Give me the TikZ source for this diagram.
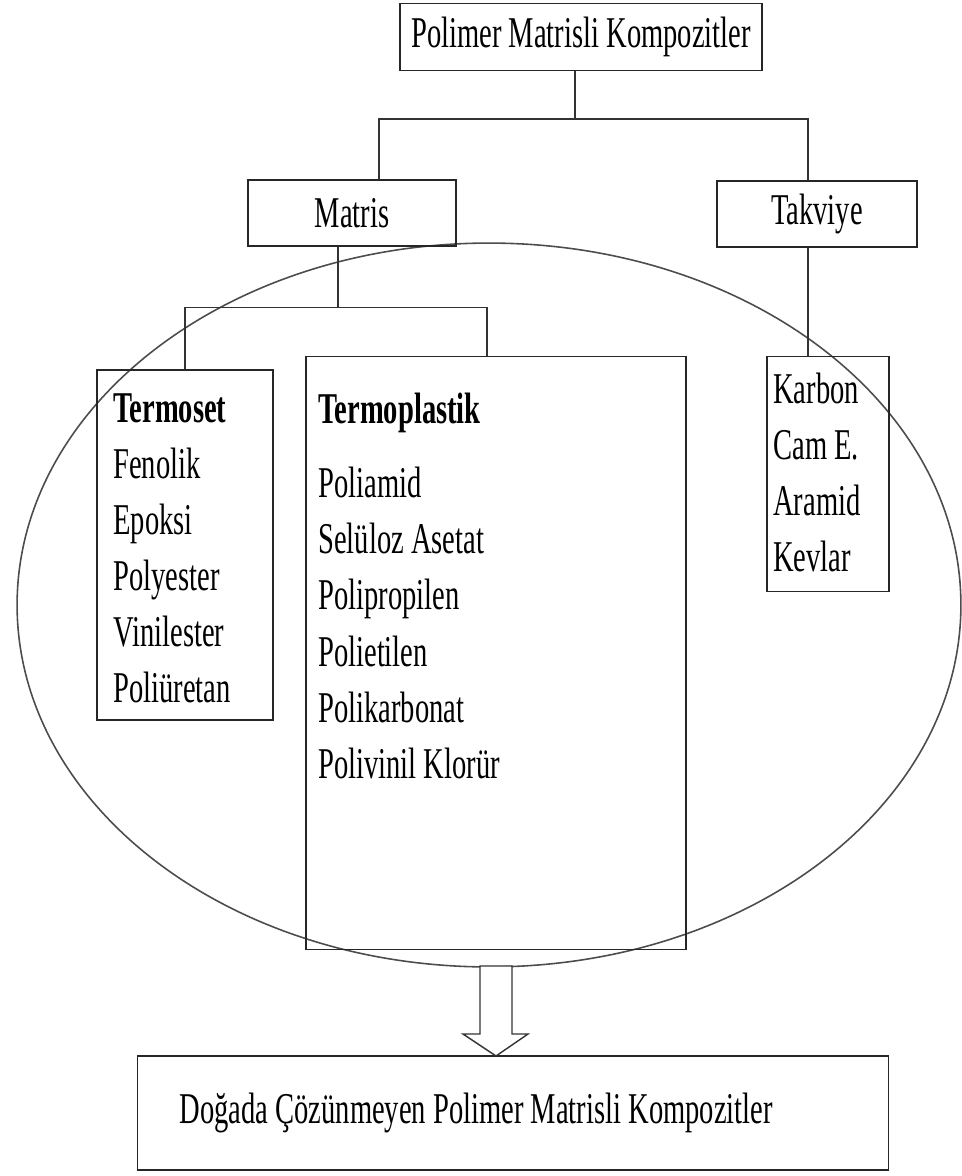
\documentclass[tikz,border=0pt]{standalone}
\usepackage{fontspec}
\setmainfont[FakeStretch=0.65]{Liberation Serif}
\usetikzlibrary{positioning}

\begin{document}
\begin{tikzpicture}[x=0.02cm, y=-0.02cm, font=\fontsize{25}{31.9}\selectfont,
  box/.style={rectangle, draw=black!85, line width=0.8pt, inner sep=0pt},
  list/.style={align=left, inner sep=0pt, anchor=north west},
  link/.style={draw=black!80, line width=0.8pt}
]
\useasboundingbox (0,0) rectangle (961,1176);

% oval round the matrix group
\draw[black!70, line width=0.9pt] (489,605) ellipse [x radius=9.44cm, y radius=7.24cm];

\node[box, minimum width=7.24cm, minimum height=1.34cm] (pmk) at (581,37) {Polimer Matrisli Kompozitler};
\node[box, minimum width=4.16cm, minimum height=1.32cm] (matris) at (352,213) {Matris};
\node[box, minimum width=4.0cm, minimum height=1.32cm] (takviye) at (817,214) {Takviye};

\node[box, minimum width=3.52cm, minimum height=7.0cm] (termoset) at (185,545) {};
\node[box, minimum width=7.6cm, minimum height=11.86cm] (termoplastik) at (496,653) {};
\node[box, minimum width=2.44cm, minimum height=4.7cm] (takviyebox) at (828,474) {};

\node[list] (termosetlist) at (113,393)
  {\textbf{Termoset}\\Fenolik\\Epoksi\\Polyester\\Vinilester\\Poliüretan};
\node[list] (termoplastiklist) at (318,393)
  {\textbf{Termoplastik}\\[0.36cm]Poliamid\\Selüloz Asetat\\Polipropilen\\Polietilen\\Polikarbonat\\Polivinil Klorür};
\node[list] (takviyelist) at (773,373)
  {Karbon\\Cam E.\\Aramid\\Kevlar};

\node[box, minimum width=15.02cm, minimum height=2.28cm] (sonuc) at (513,1113)
  {\makebox[13.34cm][l]{Doğada Çözünmeyen Polimer Matrisli Kompozitler}};

% tree lines
\draw[link] ([xshift=-0.12cm]pmk.south) -- ++(0,48) coordinate (split1);
\draw[link] ([xshift=0.54cm]matris.north) |- (split1) -| ([xshift=-0.18cm]takviye.north);
\draw[link] ([xshift=-0.28cm]matris.south) -- ++(0,61) coordinate (split2);
\draw[link] (termoset.north) |- (split2) -| ([xshift=-0.18cm]termoplastik.north);
\draw[link] ([xshift=-0.18cm]takviye.south) -- ([xshift=-0.18cm]takviye.south |- takviyebox.north);

% hollow arrow down
\draw[link, fill=white] (480,966) -- (480,1034) -- (463,1034) -- (496,1056)
  -- (528,1034) -- (512,1034) -- (512,966) -- cycle;

\end{tikzpicture}
\end{document}
